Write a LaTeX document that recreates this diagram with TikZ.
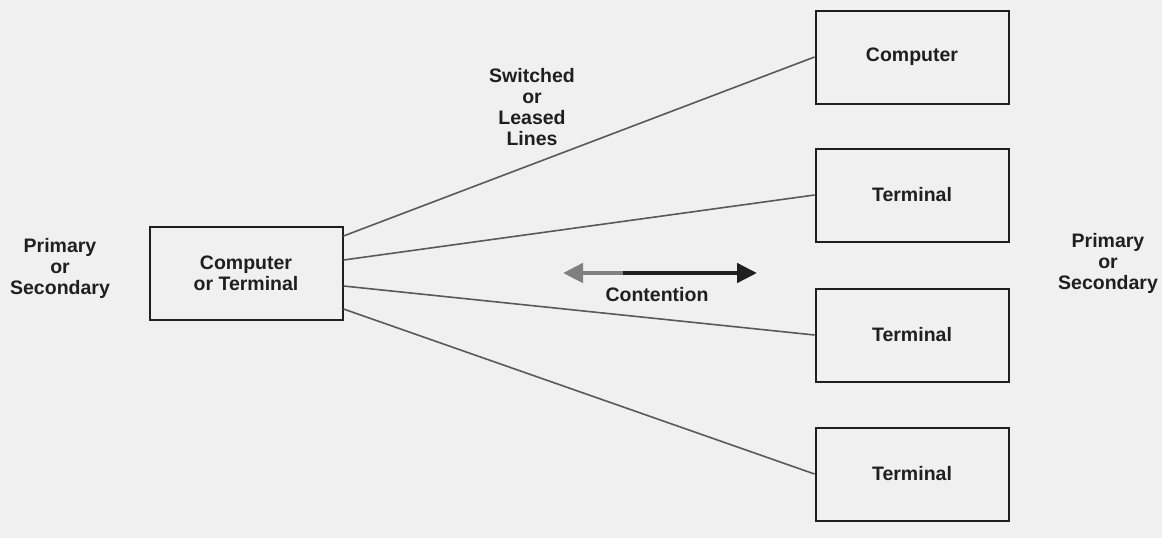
\documentclass[tikz,border=0pt]{standalone}
\usepackage{fontspec}
\setmainfont{Liberation Sans}
\usepackage{xcolor}
\usetikzlibrary{arrows.meta}

\definecolor{paper}{gray}{0.94}
\definecolor{ink}{gray}{0.12}
\definecolor{wire}{gray}{0.35}

\begin{document}
\begin{tikzpicture}[x=1pt,y=-1pt,
    box/.style={draw=ink,line width=2pt,minimum width=193pt,minimum height=93pt,inner sep=0pt},
    lbl/.style={align=center,font=\fontsize{19.5}{21}\selectfont\bfseries,text=ink},
    wire/.style={draw=wire,line width=1.6pt}]
    \fill[paper] (0,0) rectangle (1162,538);
    \useasboundingbox (0,0) rectangle (1162,538);

    \node[box,lbl] (L) at (246,273) {Computer\\or Terminal};
    \node[box,lbl] (C) at (912,57) {Computer};
    \node[box,lbl] (T1) at (912,195) {Terminal};
    \node[box,lbl] (T2) at (912,335) {Terminal};
    \node[box,lbl] (T3) at (912,474) {Terminal};

    \draw[wire] ([yshift=37pt]L.east) -- (C.west);
    \draw[wire] ([yshift=13pt]L.east) -- (T1.west);
    \draw[wire] ([yshift=-13pt]L.east) -- (T2.west);
    \draw[wire] ([yshift=-36pt]L.east) -- (T3.west);

    \node[lbl] (pl) at (60,268) {Primary\\or\\Secondary};
    \node[lbl] (pr) at (1108,263) {Primary\\or\\Secondary};
    \node[lbl] (sw) at (532,107) {Switched\\or\\Leased\\Lines};

    % contention arrow
    \coordinate (cl) at (563,273);
    \coordinate (cm) at (623,273);
    \coordinate (cr) at (757,273);
    \draw[gray,line width=4.5pt,{Triangle[length=20pt,width=19pt]}-] (cl) -- (cm);
    \draw[ink,line width=4.5pt,-{Triangle[length=20pt,width=19pt]}] (cm) -- (cr);
    \node[lbl] (ct) at (657,295) {Contention};
\end{tikzpicture}
\end{document}
